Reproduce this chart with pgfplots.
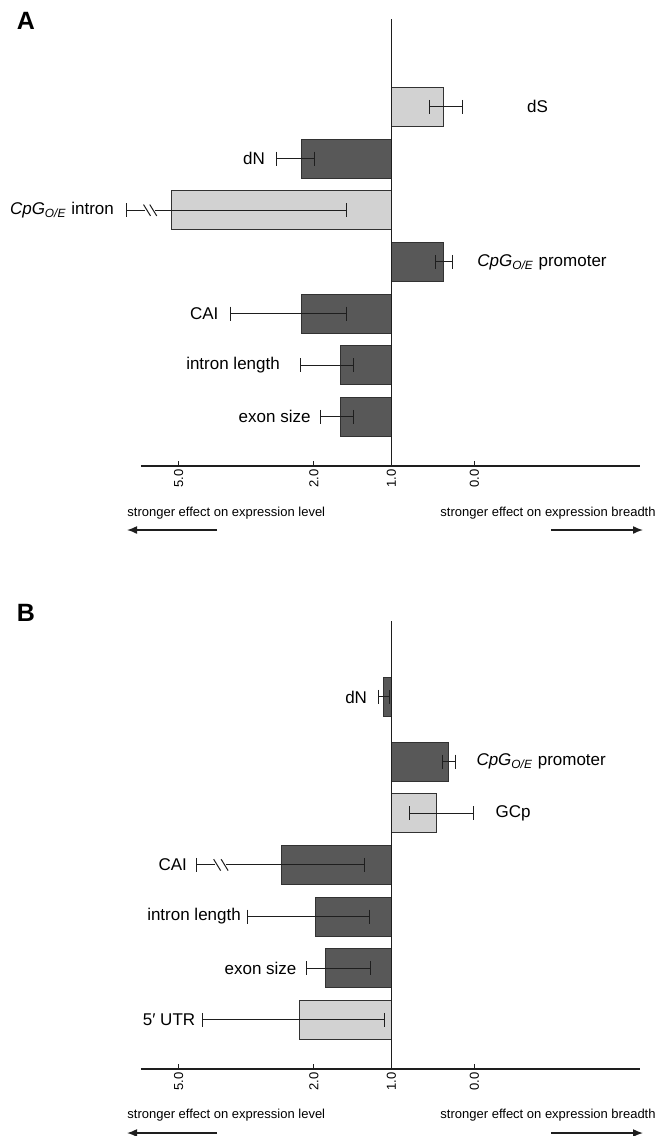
\documentclass[border=0pt]{standalone}
\usepackage{fontspec}
\setmainfont{Liberation Sans}
\usepackage{pgfplots}
\pgfplotsset{compat=1.18}
\usetikzlibrary{arrows.meta}
\definecolor{darkbar}{RGB}{88,88,88}
\definecolor{lightbar}{RGB}{210,210,210}
\definecolor{edge}{RGB}{50,50,50}
\definecolor{ink}{RGB}{30,30,30}
\newcommand{\cpg}{\textit{CpG}\textsubscript{\textit{O/E}}}
\pgfplotsset{
  panel/.style={
    x=41.5pt, y=25.835pt, xmin=-3.02, xmax=3.0, ymin=0.05,
    axis x line=bottom, axis y line=none,
    axis line style={-, ink, line width=0.6pt},
    xtick={-2.565,-0.935,0,1}, xticklabels={5.0,2.0,1.0,0.0},
    xtick align=inside, major tick length=2.5pt,
    tick style={ink, line width=0.6pt},
    xticklabel style={rotate=90, anchor=east, font=\fontsize{6.5}{7}\selectfont, inner sep=1.5pt},
    ytick=\empty, clip=false, anchor=south west,
  },
  darkb/.style={xbar, bar width=19.5pt, bar shift=0pt, fill=darkbar, draw=edge, line width=0.5pt},
  lightb/.style={xbar, bar width=19.5pt, bar shift=0pt, fill=lightbar, draw=edge, line width=0.5pt},
  ebl/.style={ink, line width=0.5pt, no marks},
  cap/.style={ink, only marks, mark=|, mark size=3.5pt, mark options={solid, line width=0.5pt}},
}
\tikzset{
  lab/.style={font=\fontsize{8.5}{10}\selectfont, inner sep=0pt},
  note/.style={font=\fontsize{6.5}{7}\selectfont, inner sep=0pt},
  arr/.style={ink, line width=0.75pt, -{Latex[length=5pt,width=4pt]}},
}
\begin{document}
\begin{tikzpicture}
\path[use as bounding box] (0,0) rectangle (333.5pt,-568pt);
% ---------------- Panel A ----------------
\node[font=\bfseries\fontsize{12.5}{14}\selectfont] at (13pt,-10.5pt) {A};
\begin{axis}[panel, ymax=8.70, at={(70.4pt,-233pt)}]
  \addplot[darkb] coordinates {(-1.08,6) (0.625,4) (-1.08,3) (-0.61,2) (-0.61,1)};
  \addplot[lightb] coordinates {(0.625,7) (-2.65,5)};
  % error bars
  \addplot[ebl] coordinates {(0.455,7) (0.85,7)};
  \addplot[ebl] coordinates {(-1.39,6) (-0.925,6)};
  \addplot[ebl] coordinates {(-3.19,5) (-2.965,5)};
  \addplot[ebl] coordinates {(-2.85,5) (-0.54,5)};
  \addplot[ebl] coordinates {(-2.987,5.11) (-2.903,4.89)};
  \addplot[ebl] coordinates {(-2.912,5.11) (-2.828,4.89)};
  \addplot[ebl] coordinates {(0.53,4) (0.74,4)};
  \addplot[ebl] coordinates {(-1.94,3) (-0.54,3)};
  \addplot[ebl] coordinates {(-1.09,2) (-0.46,2)};
  \addplot[ebl] coordinates {(-0.85,1) (-0.46,1)};
  \addplot[cap] coordinates {(0.455,7) (0.85,7) (-1.39,6) (-0.925,6) (-3.19,5) (-0.54,5)
     (0.53,4) (0.74,4) (-1.94,3) (-0.54,3) (-1.09,2) (-0.46,2) (-0.85,1) (-0.46,1)};
  \draw[ink, line width=0.6pt] (axis cs:0,0.05) -- (axis cs:0,8.70);
  \node[lab, anchor=west] at (axis cs:1.63,7) {dS};
  \node[lab, anchor=east] at (axis cs:-1.52,6) {dN};
  \node[lab, anchor=east] at (axis cs:-3.34,5) {\cpg{} intron};
  \node[lab, anchor=west] at (axis cs:1.03,4) {\cpg{} promoter};
  \node[lab, anchor=east] at (axis cs:-2.08,3) {CAI};
  \node[lab, anchor=east] at (axis cs:-1.34,2) {intron length};
  \node[lab, anchor=east] at (axis cs:-0.97,1) {exon size};
\end{axis}
\node[note, anchor=west] at (63.5pt,-256.5pt) {stronger effect on expression level};
\node[note, anchor=east] at (328pt,-256.5pt) {stronger effect on expression breadth};
\draw[arr] (108.5pt,-265pt) -- (63.5pt,-265pt);
\draw[arr] (275.5pt,-265pt) -- (321.5pt,-265pt);
% ---------------- Panel B ----------------
\node[font=\bfseries\fontsize{12.5}{14}\selectfont] at (13pt,-306.5pt) {B};
\begin{axis}[panel, ymax=8.73, at={(70.4pt,-534.5pt)}]
  \addplot[darkb] coordinates {(-0.09,7.25) (0.69,6) (-1.33,4) (-0.91,3) (-0.79,2)};
  \addplot[lightb] coordinates {(0.54,5) (-1.11,1)};
  \addplot[ebl] coordinates {(-0.16,7.25) (-0.02,7.25)};
  \addplot[ebl] coordinates {(0.61,6) (0.77,6)};
  \addplot[ebl] coordinates {(0.22,5) (0.99,5)};
  \addplot[ebl] coordinates {(-2.35,4) (-2.13,4)};
  \addplot[ebl] coordinates {(-1.99,4) (-0.32,4)};
  \addplot[ebl] coordinates {(-2.142,4.11) (-2.058,3.89)};
  \addplot[ebl] coordinates {(-2.052,4.11) (-1.968,3.89)};
  \addplot[ebl] coordinates {(-1.73,3) (-0.26,3)};
  \addplot[ebl] coordinates {(-1.02,2) (-0.25,2)};
  \addplot[ebl] coordinates {(-2.28,1) (-0.08,1)};
  \addplot[cap] coordinates {(-0.16,7.25) (-0.02,7.25) (0.61,6) (0.77,6) (0.22,5) (0.99,5)
     (-2.35,4) (-0.32,4) (-1.73,3) (-0.26,3) (-1.02,2) (-0.25,2) (-2.28,1) (-0.08,1)};
  \draw[ink, line width=0.6pt] (axis cs:0,0.05) -- (axis cs:0,8.73);
  \node[lab, anchor=east] at (axis cs:-0.29,7.25) {dN};
  \node[lab, anchor=west] at (axis cs:1.02,6) {\cpg{} promoter};
  \node[lab, anchor=west] at (axis cs:1.25,5) {GCp};
  \node[lab, anchor=east] at (axis cs:-2.46,4) {CAI};
  \node[lab, anchor=east] at (axis cs:-1.81,3) {intron length};
  \node[lab, anchor=east] at (axis cs:-1.14,2) {exon size};
  \node[lab, anchor=east] at (axis cs:-2.36,1) {5′ UTR};
\end{axis}
\node[note, anchor=west] at (63.5pt,-557.5pt) {stronger effect on expression level};
\node[note, anchor=east] at (328pt,-557.5pt) {stronger effect on expression breadth};
\draw[arr] (108.5pt,-566.5pt) -- (63.5pt,-566.5pt);
\draw[arr] (275.5pt,-566.5pt) -- (321.5pt,-566.5pt);
\end{tikzpicture}
\end{document}
